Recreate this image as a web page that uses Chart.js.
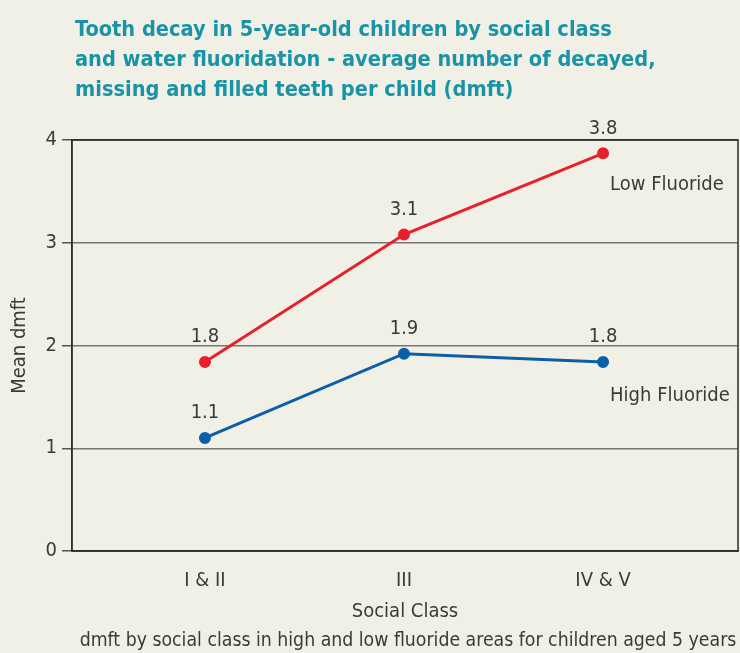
<!DOCTYPE html>
<html>
<head>
<meta charset="utf-8">
<script src="https://cdn.jsdelivr.net/npm/chart.js@4"></script>
<style>
  body { margin: 0; background: #f0f0e7; }
  #wrap { position: relative; width: 740px; height: 653px; background: #f0f0e7; overflow: hidden; }
  #title {
    position: absolute; left: 75px; top: 14px;
    font-family: "Liberation Sans Narrow", "DejaVu Sans Condensed", sans-serif;
    font-weight: bold; font-size: 21.6px; line-height: 30px; color: #1b93a6;
  }
  #caption {
    position: absolute; left: 0; width: 816px; top: 628px; text-align: center;
    font-family: "Liberation Sans Narrow", "DejaVu Sans Condensed", sans-serif;
    font-size: 19.3px; color: #3a3a3a; white-space: nowrap;
  }
  canvas { position: absolute; left: 0; top: 0; }
</style>
</head>
<body>
<div id="wrap">
  <canvas id="dmftChart" width="740" height="653"></canvas>
  <div id="title">Tooth decay in 5-year-old children by social class<br>and water fluoridation - average number of decayed,<br>missing and filled teeth per child (dmft)</div>
  <div id="caption">dmft by social class in high and low fluoride areas for children aged 5 years</div>
</div>
<script>
// chart data
const socialClasses = ['I & II', 'III', 'IV & V'];
const lowFluoride = [1.84, 3.08, 3.87];
const highFluoride = [1.10, 1.92, 1.84];
const lowLabels = ['1.8', '3.1', '3.8'];
const highLabels = ['1.1', '1.9', '1.8'];
const yTicks = [0, 1, 2, 3, 4];

const font = '"Liberation Sans Narrow", "DejaVu Sans Condensed", sans-serif';
const textColor = '#3a3a3a';

// build x/y points for a linear x axis (so categories can sit off-centre)
function toPoints(values) {
  return values.map((v, i) => ({ x: i, y: v }));
}

// draws the value above each point and the series name to the right
const labelPlugin = {
  id: 'pointLabels',
  afterDatasetsDraw(chart) {
    const ctx = chart.ctx;
    const xScale = chart.scales.x;
    const yScale = chart.scales.y;
    ctx.save();
    ctx.font = '20px ' + font;
    ctx.fillStyle = textColor;
    ctx.textAlign = 'center';
    ctx.textBaseline = 'middle';
    chart.data.datasets.forEach((ds, di) => {
      const meta = chart.getDatasetMeta(di);
      meta.data.forEach((pt, i) => {
        ctx.fillText(ds.pointText[i], pt.x, pt.y - 25);
      });
      ctx.textAlign = 'left';
      ctx.fillText(ds.label, xScale.getPixelForValue(2) + 7, yScale.getPixelForValue(ds.nameAt));
      ctx.textAlign = 'center';
    });
    // box round the plot
    const a = chart.chartArea;
    ctx.strokeStyle = '#2e2e2e';
    ctx.lineWidth = 1.5;
    ctx.strokeRect(a.left, a.top, a.right - a.left, a.bottom - a.top);
    ctx.restore();
  }
};

const ctx = document.getElementById('dmftChart').getContext('2d');
new Chart(ctx, {
  type: 'line',
  data: {
    datasets: [
      {
        label: 'Low Fluoride',
        data: toPoints(lowFluoride),
        pointText: lowLabels,
        nameAt: 3.56,
        borderColor: '#e8202b',
        backgroundColor: '#e8202b',
        borderWidth: 3,
        pointRadius: 4.5,
        tension: 0
      },
      {
        label: 'High Fluoride',
        data: toPoints(highFluoride),
        pointText: highLabels,
        nameAt: 1.51,
        borderColor: '#0b5ea8',
        backgroundColor: '#0b5ea8',
        borderWidth: 3,
        pointRadius: 4.5,
        tension: 0
      }
    ]
  },
  plugins: [labelPlugin],
  options: {
    responsive: false,
    animation: false,
    layout: { autoPadding: false, padding: { top: 140, right: 2, left: 0, bottom: 0 } },
    plugins: {
      legend: { display: false },
      tooltip: { enabled: false }
    },
    scales: {
      x: {
        type: 'linear',
        min: -0.668,
        max: 2.678,
        afterBuildTicks: (scale) => {
          scale.ticks = socialClasses.map((c, i) => ({ value: i }));
        },
        afterFit: (scale) => { scale.height = 102; },
        ticks: {
          padding: 18,
          color: textColor,
          font: { family: font, size: 20 },
          callback: (v) => socialClasses[v]
        },
        grid: { display: false, drawTicks: false },
        border: { display: true, color: '#2e2e2e', width: 1.5 },
        title: {
          display: true,
          text: 'Social Class',
          color: textColor,
          font: { family: font, size: 20 },
          padding: { top: 0, bottom: 29 }
        }
      },
      y: {
        min: 0,
        max: 4,
        afterBuildTicks: (scale) => {
          scale.ticks = yTicks.map(v => ({ value: v }));
        },
        afterFit: (scale) => { scale.width = 72; },
        ticks: {
          padding: 5,
          color: textColor,
          font: { family: font, size: 20 }
        },
        grid: {
          color: (c) => (c.tick && (c.tick.value === 0 || c.tick.value === 4)) ? '#2e2e2e' : '#76766f',
          lineWidth: 1.5,
          tickLength: 10,
          tickColor: '#55554f'
        },
        border: { display: true, color: '#2e2e2e', width: 1.5 },
        title: {
          display: true,
          text: 'Mean dmft',
          color: textColor,
          font: { family: font, size: 20 },
          padding: { top: 8, bottom: 0 }
        }
      }
    }
  }
});
</script>
</body>
</html>
